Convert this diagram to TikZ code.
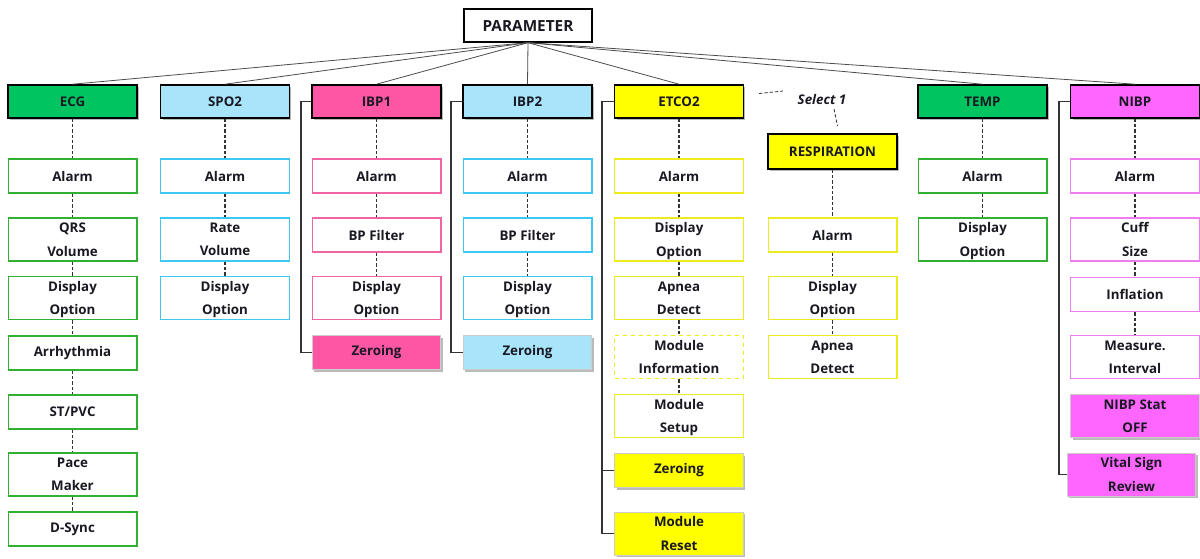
\documentclass[tikz,border=0pt]{standalone}
\usepackage{fontspec}
\setmainfont{Open Sans}
\usetikzlibrary{shadows}
\definecolor{grnF}{RGB}{0,196,96}
\definecolor{grnB}{RGB}{50,176,50}
\definecolor{bluF}{RGB}{168,228,250}
\definecolor{bluB}{RGB}{60,200,240}
\definecolor{pnkF}{RGB}{255,85,165}
\definecolor{pnkB}{RGB}{240,100,165}
\definecolor{ylwF}{RGB}{255,255,0}
\definecolor{ylwB}{RGB}{235,235,30}
\definecolor{magF}{RGB}{255,102,255}
\definecolor{magB}{RGB}{240,125,240}
\definecolor{txt}{RGB}{25,25,35}
\begin{document}
\begin{tikzpicture}[x=0.75pt,y=-0.75pt,
  shd/.style={drop shadow={shadow xshift=1.6pt,shadow yshift=-1.6pt,opacity=0.45,fill=black!60}},
  hdr/.style={draw=black,line width=1.2pt,minimum width=96.5pt,minimum height=24.75pt,inner sep=0pt,
    font=\bfseries\fontsize{10}{12}\selectfont,text=txt,shd},
  sub/.style={draw,line width=1pt,fill=white,minimum width=96.5pt,inner sep=0pt,align=center,
    font=\bfseries\fontsize{10}{17.5}\selectfont,text=txt},
  leaf/.style={draw=black!20,line width=0.6pt,minimum width=96.5pt,inner sep=0pt,align=center,
    font=\bfseries\fontsize{10}{17.5}\selectfont,text=txt,shd},
  one/.style={minimum height=25.5pt},
  two/.style={minimum height=32.25pt,text depth=0pt},
  dcon/.style={draw=black!80,line width=0.8pt,dash pattern=on 2.5pt off 1.5pt},
  tcon/.style={draw=black!70,line width=0.6pt},
  brk/.style={draw=black!80,line width=1pt},
  gS/.style={sub,draw=grnB}, bS/.style={sub,draw=bluB}, pS/.style={sub,draw=pnkB},
  yS/.style={sub,draw=ylwB}, mS/.style={sub,draw=magB}]
\useasboundingbox (0,0) rectangle (1200,558);

% root
\node[draw=black,line width=1pt,fill=white,minimum width=96pt,minimum height=24.75pt,inner sep=0pt,
  font=\bfseries\fontsize{11.5}{13}\selectfont,text=txt] (param) at (528,25.5) {PARAMETER};

% headers
\node[hdr,fill=grnF] (ecg) at (72.5,101.5) {ECG};
\node[hdr,fill=bluF] (spo) at (225,101.5) {SPO2};
\node[hdr,fill=pnkF] (ibpa) at (376.5,101.5) {IBP1};
\node[hdr,fill=bluF] (ibpb) at (527.5,101.5) {IBP2};
\node[hdr,fill=ylwF] (etc) at (679,101.5) {ETCO2};
\node[hdr,fill=ylwF,minimum height=26.25pt] (resp) at (832.5,151.5) {RESPIRATION};
\node[hdr,fill=grnF] (tmp) at (982.5,101.5) {TEMP};
\node[hdr,fill=magF] (nib) at (1135,101.5) {NIBP};

\foreach \h in {ecg,spo,ibpa,ibpb,etc,tmp,nib} \draw[tcon] (param.south) -- (\h.north);

% ECG
\node[gS,one] (e1) at (72.5,176) {Alarm};
\node[gS,two] (e2) at (72.5,239.5) {QRS\\Volume};
\node[gS,two] (e3) at (72.5,298) {Display\\Option};
\node[gS,one] (e4) at (72.5,353) {Arrhythmia};
\node[gS,one] (e5) at (72.5,412) {ST/PVC};
\node[gS,two] (e6) at (72.5,474.5) {Pace\\Maker};
\node[gS,one] (e7) at (72.5,529) {D-Sync};
\draw[dcon] (ecg) -- (e1) -- (e2) -- (e3) -- (e4) -- (e5) -- (e6) -- (e7);

% SPO2
\node[bS,one] (s1) at (225,176) {Alarm};
\node[bS,two] (s2) at (225,239.5) {Rate\\Volume};
\node[bS,two] (s3) at (225,298) {Display\\Option};
\draw[dcon] (spo) -- (s1) -- (s2) -- (s3);

% IBP1
\node[pS,one] (p1) at (376.5,176) {Alarm};
\node[pS,one] (p2) at (376.5,235) {BP Filter};
\node[pS,two] (p3) at (376.5,298) {Display\\Option};
\node[leaf,fill=pnkF,one] (pz) at (376.5,352.5) {Zeroing};
\draw[dcon] (ibpa) -- (p1) -- (p2) -- (p3);
\coordinate (pb) at (301,101.5);
\draw[brk] (ibpa.west) -- (pb) |- (pz.west);

% IBP2
\node[bS,one] (q1) at (527.5,176) {Alarm};
\node[bS,one] (q2) at (527.5,235) {BP Filter};
\node[bS,two] (q3) at (527.5,298) {Display\\Option};
\node[leaf,fill=bluF,one] (qz) at (527.5,352.5) {Zeroing};
\draw[dcon] (ibpb) -- (q1) -- (q2) -- (q3);
\coordinate (qb) at (451,101.5);
\draw[brk] (ibpb.west) -- (qb) |- (qz.west);

% ETCO2
\node[yS,one] (c1) at (679,176) {Alarm};
\node[yS,two] (c2) at (679,239.5) {Display\\Option};
\node[yS,two] (c3) at (679,298) {Apnea\\Detect};
\node[yS,two,dashed] (c4) at (679,357) {Module\\Information};
\node[yS,two] (c5) at (679,416) {Module\\Setup};
\node[leaf,fill=ylwF,one] (cz) at (679,470.5) {Zeroing};
\node[leaf,fill=ylwF,two] (cr) at (679,533.5) {Module\\Reset};
\draw[dcon] (etc) -- (c1) -- (c2) -- (c3) -- (c4) -- (c5);
\coordinate (cb) at (602,101.5);
\draw[brk] (etc.west) -- (cb) |- (cr.west);
\draw[brk] (cb |- cz.west) -- (cz.west);

% Select 1
\node[font=\bfseries\itshape\fontsize{10}{12}\selectfont,text=txt,inner sep=0pt] (sel) at (822,99) {Select 1};
\coordinate (sa) at (759,93.5);
\coordinate (sb) at (783,91);
\coordinate (sc) at (834,109);
\coordinate (sd) at (837.5,126);
\draw[dcon,line width=0.6pt] (sa) -- (sb);
\draw[dcon,line width=0.6pt] (sc) -- (sd);

% RESPIRATION
\node[yS,one] (r1) at (832.5,235) {Alarm};
\node[yS,two] (r2) at (832.5,298) {Display\\Option};
\node[yS,two] (r3) at (832.5,357) {Apnea\\Detect};
\draw[dcon] (resp) -- (r1) -- (r2) -- (r3);

% TEMP
\node[gS,one] (t1) at (982.5,176) {Alarm};
\node[gS,two] (t2) at (982.5,239.5) {Display\\Option};
\draw[dcon] (tmp) -- (t1) -- (t2);

% NIBP
\node[mS,one] (n1) at (1135,176) {Alarm};
\node[mS,two] (n2) at (1135,239.5) {Cuff\\Size};
\node[mS,one] (n3) at (1135,294.5) {Inflation};
\node[mS,two] (n4) at (1135,357) {Measure.\\Interval};
\node[leaf,fill=magF,two] (n5) at (1135,416) {NIBP Stat\\OFF};
\node[leaf,fill=magF,two] (n6) at (1131.5,474.5) {Vital Sign\\Review};
\draw[dcon] (nib) -- (n1) -- (n2) -- (n3) -- (n4);
\coordinate (nb) at (1059,101.5);
\draw[brk] (nib.west) -- (nb) |- (n6.west);
\end{tikzpicture}
\end{document}
